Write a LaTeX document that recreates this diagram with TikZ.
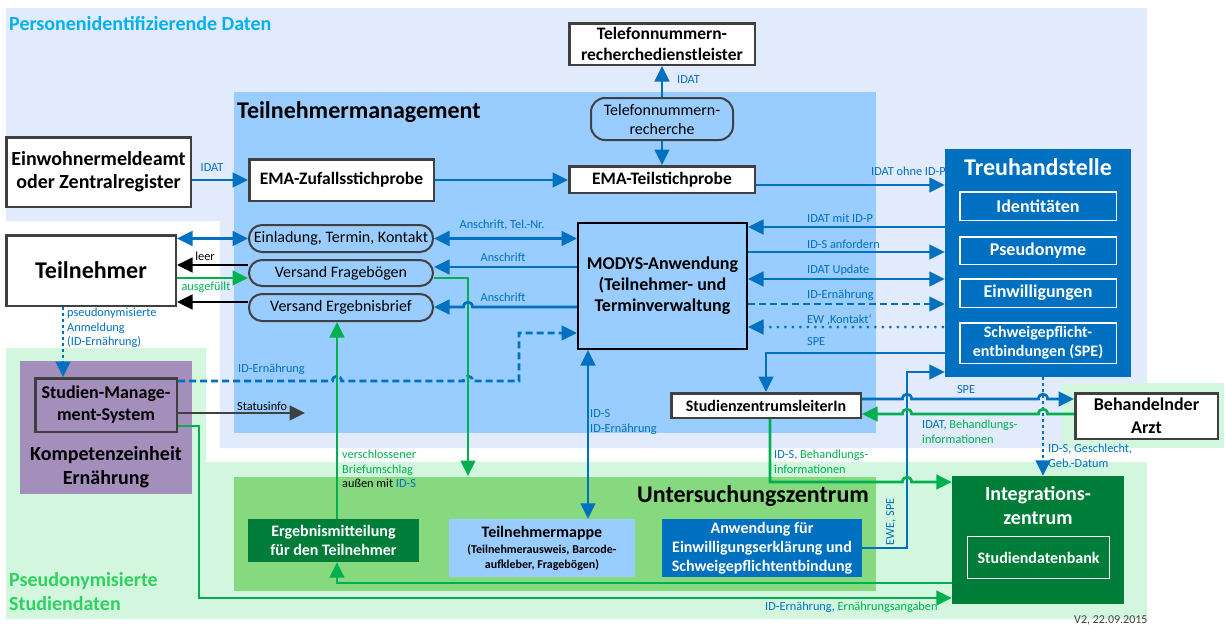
\documentclass[tikz,border=0pt]{standalone}
\usepackage{fontspec}
\setmainfont{Carlito}
\usetikzlibrary{arrows.meta}
\definecolor{bgblue}{HTML}{E1EBFC}
\definecolor{midblue}{HTML}{99CCFF}
\definecolor{bggreen}{HTML}{D3F7DE}
\definecolor{midgreen}{HTML}{86D97E}
\definecolor{dkgreen}{HTML}{007E39}
\definecolor{tblue}{HTML}{0070C0}
\definecolor{lgreen}{HTML}{00B050}
\definecolor{purp}{HTML}{A38EBC}
\definecolor{outl}{HTML}{404040}
\definecolor{cyanT}{HTML}{00B0F0}
\definecolor{psgreen}{HTML}{2ED25E}
\newcommand{\fz}[2]{\fontsize{#1}{#2}\selectfont}
\begin{document}
\begin{tikzpicture}[x=1pt,y=-1pt,
  >={Triangle[length=15.5pt,width=14.5pt]},
  box/.style={draw=outl, line width=2.5pt, fill=white, align=center, inner sep=0pt},
  pill/.style={draw=outl, line width=2pt, fill=midblue, align=center, inner sep=0pt, font=\fz{16}{19}},
  innerbox/.style={draw=white, line width=1.5pt, align=center, inner sep=0pt, text=white},
  lbl/.style={font=\fz{12.3}{14.5}, text=tblue, inner sep=0pt, align=left},
  bline/.style={draw=tblue, line width=2.7pt},
  gline/.style={draw=lgreen, line width=2.7pt},
  kline/.style={draw=black, line width=2.7pt},
  dashpat/.style={dash pattern=on 7pt off 4pt},
  dotpat/.style={dash pattern=on 0pt off 7.5pt, line cap=round, line width=3pt},
  dotpat2/.style={dash pattern=on 3pt off 3pt}]
\useasboundingbox (0,0) rectangle (1226,629);
\fill[white] (0,0) rectangle (1226,629);

% ---- zones ----
\fill[bgblue] (6,8) -- (1147,8) -- (1147,383) -- (1062,383) -- (1062,448) -- (220,448) -- (220,221) -- (6,221) -- cycle;
\fill[bggreen] (6,348) -- (206,348) -- (206,462) -- (1147,462) -- (1147,619) -- (6,619) -- cycle;
\fill[bggreen] (1062,383) rectangle (1224,448);
\fill[midblue] (234,92) rectangle (876,433);
\fill[midgreen] (234,477) rectangle (876,591);
\fill[purp] (20,361) rectangle (192,494);

% ---- zone titles ----
\node[font=\fz{20}{24}\bfseries, text=cyanT, anchor=base west, inner sep=0pt] (tPers) at (9,30) {Personenidentifizierende Daten};
\node[font=\fz{24}{28}\bfseries, anchor=base west, inner sep=0pt] (tTM) at (237,118) {Teilnehmermanagement};
\node[font=\fz{24}{28}\bfseries, anchor=base west, inner sep=0pt] (tUZ) at (637,502) {Untersuchungszentrum};
\node[font=\fz{20}{24}\bfseries, text=psgreen, anchor=west, align=left, inner sep=0pt] (tPseudo) at (9,592) {Pseudonymisierte\\Studiendaten};
\node[font=\fz{20}{24}\bfseries, align=center, inner sep=0pt] (komp) at (106,467) {Kompetenzeinheit\\Ernährung};
\node[font=\fz{12}{14}, text=outl, anchor=north west, inner sep=0pt] (version) at (1074,616) {V2, 22.09.2015};

% ---- boxes ----
\node[box, minimum width=184.5pt, minimum height=69.5pt, font=\fz{20}{23}\bfseries] (ewa) at (98.5,172) {Einwohnermeldeamt\\oder Zentralregister};
\node[box, minimum width=185.5pt, minimum height=41.5pt, font=\fz{17.5}{21}\bfseries] (teld) at (662,44) {Telefonnummern-\\recherchedienstleister};
\node[pill, rounded corners=14pt, minimum width=142pt, minimum height=42pt] (telr) at (662,119) {Telefonnummern-\\recherche};
\node[box, minimum width=184.5pt, minimum height=41.5pt, font=\fz{17.5}{21}\bfseries] (zuf) at (341.5,180) {EMA-Zufallsstichprobe};
\node[box, minimum width=185.5pt, minimum height=26.5pt, font=\fz{17.5}{21}\bfseries] (teil) at (662,179.5) {EMA-Teilstichprobe};

\node[fill=tblue, minimum width=186pt, minimum height=228pt, inner sep=0pt] (treuh) at (1038,263) {};
\node[font=\fz{24}{28}\bfseries, text=white, anchor=base, inner sep=0pt] (treuhT) at (1038,175) {Treuhandstelle};
\node[innerbox, minimum width=156.5pt, minimum height=28.5pt, font=\fz{18}{21}\bfseries] (ident) at (1038,206) {Identitäten};
\node[innerbox, minimum width=156.5pt, minimum height=27.5pt, font=\fz{18}{21}\bfseries] (pseudo) at (1038,250.5) {Pseudonyme};
\node[innerbox, minimum width=156.5pt, minimum height=28.5pt, font=\fz{18}{21}\bfseries] (einw) at (1038,293) {Einwilligungen};
\node[innerbox, minimum width=156.5pt, minimum height=40.5pt, font=\fz{16}{19}\bfseries] (spe) at (1038,343) {Schweigepflicht-\\entbindungen (SPE)};

\node[draw=black, line width=2pt, fill=midblue, minimum width=169pt, minimum height=126pt, align=center, inner sep=0pt, font=\fz{18}{21}\bfseries] (modys) at (662.5,286) {MODYS-Anwendung\\(Teilnehmer- und\\Terminverwaltung};

\node[pill, rounded corners=13pt, minimum width=184pt, minimum height=27pt] (einl) at (341,238.5) {Einladung, Termin, Kontakt};
\node[pill, rounded corners=13pt, minimum width=184pt, minimum height=26pt] (frage) at (341,273) {Versand Fragebögen};
\node[pill, rounded corners=13pt, minimum width=184pt, minimum height=27pt] (brief) at (341,307.5) {Versand Ergebnisbrief};

\node[box, minimum width=169.5pt, minimum height=70.5pt, font=\fz{24}{28}\bfseries] (teiln) at (91,270.5) {Teilnehmer};
\node[box, fill=purp, minimum width=141.5pt, minimum height=53.5pt, font=\fz{18}{22}\bfseries] (sms) at (106,405) {Studien-Manage-\\ment-System};
\node[box, minimum width=189.5pt, minimum height=24.5pt, font=\fz{16}{19}\bfseries] (sl) at (766,405.5) {StudienzentrumsleiterIn};
\node[box, minimum width=142.5pt, minimum height=45.5pt, font=\fz{18}{23}\bfseries] (arzt) at (1146.5,416) {Behandelnder\\Arzt};

\node[fill=dkgreen, minimum width=172pt, minimum height=128pt, inner sep=0pt] (integ) at (1038,540) {};
\node[font=\fz{20}{24}\bfseries, text=white, align=center, anchor=north, inner sep=0pt] (integT) at (1038,486) {Integrations-\\zentrum};
\node[innerbox, fill=dkgreen, minimum width=142pt, minimum height=42pt, font=\fz{16}{19}\bfseries] (sdb) at (1038.5,557.5) {Studiendatenbank};

\node[fill=dkgreen, text=white, minimum width=171pt, minimum height=43pt, align=center, inner sep=0pt, font=\fz{16}{19}\bfseries] (ergeb) at (333.5,540.5) {Ergebnismitteilung\\für den Teilnehmer};
\node[fill=midblue, minimum width=186pt, minimum height=58pt, align=center, inner sep=0pt, font=\fz{12}{15}\bfseries] (mappe) at (542,548) {{\fz{16}{19}Teilnehmermappe}\\[1pt](Teilnehmerausweis, Barcode-\\aufkleber, Fragebögen)};
\node[fill=tblue, text=white, minimum width=200pt, minimum height=58pt, align=center, inner sep=0pt, font=\fz{16}{19}\bfseries] (anw) at (762,548) {Anwendung für\\Einwilligungserklärung und\\Schweigepflichtentbindung};

% ---- connectors: registry, samples, phone research ----
\draw[bline,->] (ewa.east |- zuf.west) -- (zuf.west);
\node[lbl] (lIdat1) at (212,168) {IDAT};
\draw[bline,->] (zuf.east) -- (zuf.east -| teil.west);
\draw[bline,->] (telr.north) -- (teld.south);
\node[lbl, anchor=west] (lIdat2) at (677,80) {IDAT};
\draw[bline,->] (telr.south) -- (teil.north);
\draw[bline,->] (teil.east |- 0,185) -- (treuh.west |- 0,185);
\node[lbl, anchor=west] (lOhne) at (871,171) {IDAT ohne ID-P};

% ---- MODYS <-> Treuhandstelle ----
\draw[bline,<-] (modys.east |- 0,227) -- (treuh.west |- 0,227);
\draw[bline,->] (modys.east |- 0,252) -- (treuh.west |- 0,252);
\draw[bline,<->] (modys.east |- 0,279) -- (treuh.west |- 0,279);
\draw[bline,dashpat,->] (modys.east |- 0,304) -- (treuh.west |- 0,304);
\draw[bline,dotpat,<-] (modys.east |- 0,327) -- (treuh.west |- 0,327);
\node[lbl, anchor=west] (lMit) at (807,218) {IDAT mit ID-P};
\node[lbl, anchor=west] (lAnf) at (807,244) {ID-S anfordern};
\node[lbl, anchor=west] (lUpd) at (807,270) {IDAT Update};
\node[lbl, anchor=west] (lErn1) at (807,295) {ID-Ernährung};
\node[lbl, anchor=west] (lKon) at (807,320) {EW ‚Kontakt‘};

% ---- SPE / EWE ----
\draw[bline,->] (treuh.west |- 0,353) -| (sl.north);
\node[lbl, anchor=west] (lSpe1) at (807,342) {SPE};
\draw[bline,->] (anw.east) -| (907,372) -- (treuh.west |- 0,372);
\node[lbl, rotate=90] (lEwe) at (891,522) {EWE, SPE};
\draw[bline,dotpat2,->] (treuh.south -| 1043,0) -- (integ.north -| 1043,0);
\node[lbl, anchor=west] (lGeb) at (1048,456) {ID-S, Geschlecht,\\Geb.-Datum};
\draw[bline,->] (sl.east |- 0,399) -- (902.5,399) .. controls (902.5,392.5) and (911.5,392.5) .. (911.5,399)
  -- (1038.5,399) .. controls (1038.5,392.5) and (1047.5,392.5) .. (1047.5,399) -- (arzt.west |- 0,399);
\node[lbl] (lSpe2) at (966,390) {SPE};
\draw[gline,->] (arzt.west |- 0,414) -- (1047.5,414) .. controls (1047.5,407.5) and (1038.5,407.5) .. (1038.5,414)
  -- (911.5,414) .. controls (911.5,407.5) and (902.5,407.5) .. (902.5,414) -- (sl.east |- 0,414);
\node[lbl, anchor=west] (lBeh1) at (922,432) {IDAT, \textcolor{lgreen}{Behandlungs-}\\\textcolor{lgreen}{informationen}};
\draw[gline,->] (sl.south -| 770,0) |- (902.5,482) .. controls (902.5,475.5) and (911.5,475.5) .. (911.5,482) -- (integ.west |- 0,482);
\node[lbl, anchor=west] (lBeh2) at (774,462) {ID-S, \textcolor{lgreen}{Behandlungs-}\\\textcolor{lgreen}{informationen}};

% ---- MODYS <-> folder ----
\draw[bline,<->] (modys.south -| 588,0) -- (mappe.north -| 588,0);
\node[lbl, anchor=west] (lIds) at (590,422) {ID-S\\ID-Ernährung};

% ---- study management system ----
\draw[bline,dashpat,->] (sms.east |- 0,381) -- (332.5,381) .. controls (332.5,374.5) and (341.5,374.5) .. (341.5,381)
  -- (463.5,381) .. controls (463.5,374.5) and (472.5,374.5) .. (472.5,381) -| (519,333) -- (modys.west |- 0,333);
\node[lbl, anchor=west] (lErn2) at (238,369) {ID-Ernährung};
\coordinate (statusend) at (305,413);
\draw[line width=2.7pt, draw=outl, ->] (sms.east |- statusend) -- (statusend);
\node[lbl, text=black, anchor=west] (lStat) at (237,406) {Statusinfo};
\draw[gline,->] (sms.east |- 0,426) -| (199,598) -- (integ.west |- 0,598);
\node[lbl, anchor=west] (lAng) at (765,607) {ID-Ernährung, \textcolor{lgreen}{Ernährungsangaben}};

% ---- results back to the participant ----
\draw[gline,->] (integ.west |- 0,583) -| (ergeb.south -| 337,0);
\draw[gline,->] (ergeb.north -| 337,0) -- (brief.south -| 337,0);
\node[lbl, text=lgreen, anchor=west] (lBrief) at (342,469) {verschlossener\\Briefumschlag\\\textcolor{black}{außen mit} \textcolor{tblue}{ID-S}};
\coordinate (uztop) at (468,476);
\draw[gline,->] (frage.east |- 0,278) -| (uztop);

% ---- MODYS -> mailing tasks ----
\draw[bline,<->] (modys.west |- einl.east) -- (einl.east);
\node[lbl] (lTel) at (502,225) {Anschrift, Tel.-Nr.};
\draw[bline,->] (modys.west |- 0,267) -- (frage.east |- 0,267);
\node[lbl] (lAn1) at (503,257) {Anschrift};
\draw[bline,->] (modys.west |- 0,307) -- (472.5,307) .. controls (472.5,300.5) and (463.5,300.5) .. (463.5,307) -- (brief.east |- 0,307);
\node[lbl] (lAn2) at (503,297) {Anschrift};

% ---- participant ----
\draw[bline,<->] (teiln.east |- einl.west) -- (einl.west);
\draw[kline,->] (frage.west |- 0,265) -- (teiln.east |- 0,265);
\node[lbl, text=black] (lLeer) at (205,256) {leer};
\draw[gline,->] (teiln.east |- 0,278) -- (frage.west |- 0,278);
\node[lbl, text=lgreen] (lAus) at (206,287) {ausgefüllt};
\draw[kline,->] (brief.west |- 0,302) -- (teiln.east |- 0,302);
\draw[bline,dotpat2,->] (teiln.south -| 63,0) -- (sms.north -| 63,0);
\node[lbl, anchor=west] (lAnm) at (67,328) {pseudonymisierte\\Anmeldung\\(ID-Ernährung)};
\end{tikzpicture}
\end{document}
